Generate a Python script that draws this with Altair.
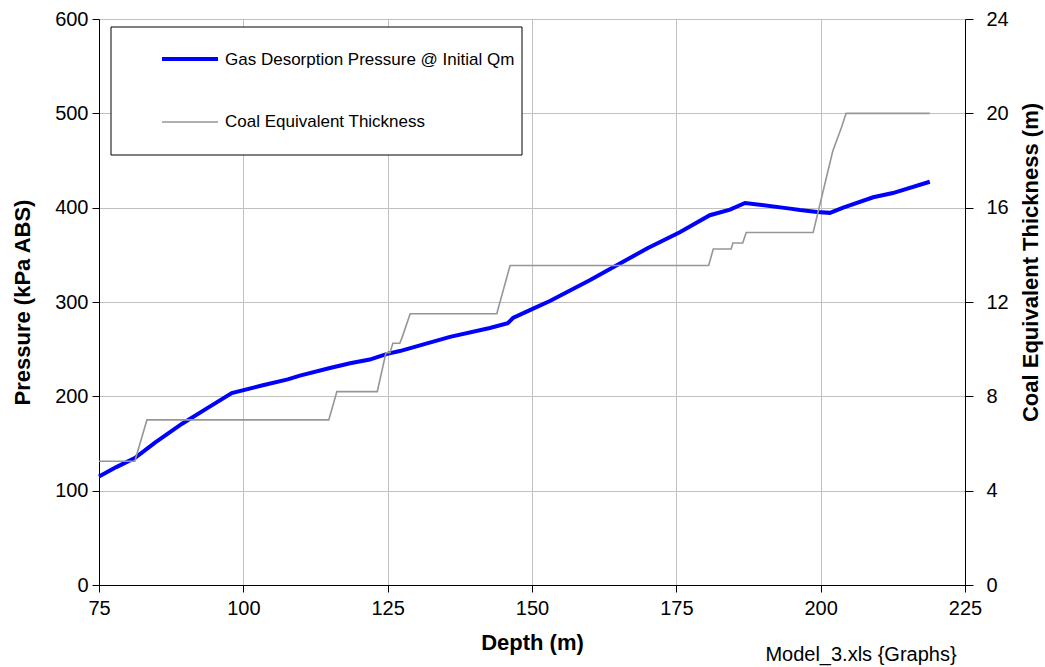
import altair as alt
import pandas as pd

# Gas desorption pressure at initial Qm (kPa ABS) against depth (m)
pressure_depth = [75, 78, 81.2, 84.7, 89.4, 93.9, 98, 103.2, 107.7, 109.8, 115, 118.5,
                  121.9, 124.9, 127.1, 130.6, 135.8, 142.7, 145.8, 146.7, 150.2, 153.1,
                  160, 165, 170, 175.6, 180.8, 184.3, 186.9, 194.7, 196.4, 199.4, 201.6,
                  203.9, 209.1, 212.5, 218.9]
pressure_kpa = [115, 125, 134.6, 151, 171, 188, 203.5, 211.5, 218, 222, 230, 235,
                239, 245, 248, 254, 263, 272.5, 277.5, 283, 293, 301,
                323, 340, 357, 374, 392, 398, 405, 399, 397.5, 395.5, 394.5,
                400, 411, 415.5, 427.5]

# Cumulative coal equivalent thickness (m) against depth (m)
coal_depth = [75, 81.2, 83.3, 114.8, 116.2, 123.2, 124.7, 125.4, 125.9, 127.1, 127.5,
              128.9, 143.9, 146.2, 180.6, 181.4, 184.5, 184.8, 186.5, 187.1, 198.7,
              202.1, 203.6, 204.4, 218.9]
coal_thickness = [5.25, 5.25, 7.0, 7.0, 8.2, 8.2, 9.85, 9.85, 10.25, 10.25, 10.5,
                  11.5, 11.5, 13.55, 13.55, 14.25, 14.25, 14.5, 14.5, 14.95, 14.95,
                  18.4, 19.4, 20.0, 20.0]

series_names = ["Gas Desorption Pressure @ Initial Qm", "Coal Equivalent Thickness"]
x_ticks = [75, 100, 125, 150, 175, 200, 225]
left_ticks = [0, 100, 200, 300, 400, 500, 600]
right_ticks = [0, 4, 8, 12, 16, 20, 24]
footer = "Model_3.xls {Graphs}"

FONT = "Liberation Sans"
BLUE = "#0000ff"
GREY = "#969696"
GRID = "#c0c0c0"
W, H = 866, 566

pdf = pd.DataFrame({"depth": pressure_depth, "pressure": pressure_kpa})
cdf = pd.DataFrame({"depth": coal_depth, "thickness": coal_thickness})

axis_style = dict(domainColor="black", tickColor="black", labelFontSize=20,
                  titleFontSize=22, titleFontWeight="bold", labelFont=FONT,
                  titleFont=FONT, labelColor="black", titleColor="black",
                  labelFlush=False, labelOverlap=False)

x_scale = alt.Scale(domain=[75, 225], nice=False, zero=False)
x_axis = alt.Axis(values=x_ticks, title="Depth (m)", grid=True, gridColor=GRID,
                  tickSize=7, labelPadding=6, titlePadding=14, **axis_style)

pressure_line = alt.Chart(pdf).mark_line(color=BLUE, strokeWidth=4).encode(
    x=alt.X("depth:Q", scale=x_scale, axis=x_axis),
    y=alt.Y("pressure:Q", scale=alt.Scale(domain=[0, 600], nice=False),
            axis=alt.Axis(values=left_ticks, title="Pressure (kPa ABS)", grid=True,
                          gridColor=GRID, tickSize=7, labelPadding=4, titlePadding=20,
                          **axis_style)),
)

coal_line = alt.Chart(cdf).mark_line(color=GREY, strokeWidth=1.6).encode(
    x=alt.X("depth:Q", scale=x_scale),
    y=alt.Y("thickness:Q", scale=alt.Scale(domain=[0, 24], nice=False),
            axis=alt.Axis(orient="right", values=right_ticks,
                          title="Coal Equivalent Thickness (m)", grid=False,
                          tickSize=8, labelPadding=13, titlePadding=34, titleAngle=270,
                          titleY=243, **axis_style)),
)

# Legend panel drawn inside the plot area
one = pd.DataFrame({"k": [0]})
legend_box = alt.Chart(one).mark_rect(fill="white", stroke="black", strokeWidth=1).encode(
    x=alt.value(12), x2=alt.value(423), y=alt.value(8), y2=alt.value(136))

leg_blue = alt.Chart(one).mark_rule(color=BLUE, strokeWidth=4).encode(
    x=alt.value(63), x2=alt.value(119), y=alt.value(40))
leg_grey = alt.Chart(one).mark_rule(color=GREY, strokeWidth=1.6).encode(
    x=alt.value(63), x2=alt.value(119), y=alt.value(103))

text_style = dict(align="left", baseline="middle", fontSize=17, font=FONT, color="black")
leg_text1 = alt.Chart(pd.DataFrame({"label": [series_names[0]]})).mark_text(
    **text_style).encode(x=alt.value(126), y=alt.value(41), text="label:N")
leg_text2 = alt.Chart(pd.DataFrame({"label": [series_names[1]]})).mark_text(
    **text_style).encode(x=alt.value(126), y=alt.value(103), text="label:N")

footer_text = alt.Chart(pd.DataFrame({"t": [footer]})).mark_text(
    align="center", baseline="middle", fontSize=20, font=FONT, color="black"
).encode(x=alt.value(762), y=alt.value(636), text="t:N")

chart = alt.layer(
    pressure_line, coal_line, legend_box, leg_blue, leg_grey, leg_text1, leg_text2,
    footer_text
).resolve_scale(y="independent").properties(
    width=W, height=H,
    autosize=alt.AutoSizeParams(type="none"),
    padding={"left": 99, "top": 19, "right": 80, "bottom": 82},
    background="white",
).configure_view(stroke=None)

chart.save("out.html", embed_options={"renderer": "svg", "actions": False})
